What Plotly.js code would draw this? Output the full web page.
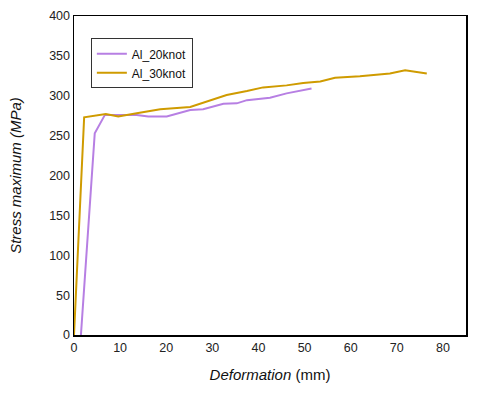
<!DOCTYPE html>
<html><head><meta charset="utf-8">
<script src="https://cdn.plot.ly/plotly-3.0.1.min.js"></script>
<style>body{margin:0;background:#fff}#c{width:480px;height:394px}</style>
</head><body><div id="c"></div>
<script>
const x20 = [1.5, 4.5, 6.7, 13.6, 16.1, 20.1, 25.2, 28.0, 32.4, 35.3, 37.5, 42.5, 46.1, 51.5];
const y20 = [0, 253, 276, 276, 274, 274, 282, 283, 290, 290.5, 294.5, 297.5, 303, 309];
const x30 = [0, 2.2, 6.9, 9.6, 13.6, 18.7, 25.2, 28.8, 33.1, 37.5, 41.0, 46.1, 49.7, 53.4, 56.6, 62.0, 68.5, 71.8, 76.5];
const y30 = [0, 273, 277, 274, 278, 283, 286, 292.5, 301, 306, 310.5, 313, 316, 318, 322.5, 324.5, 328, 332, 328];
const names = ['Al_20knot', 'Al_30knot'];

const traces = [
  {x: x20, y: y20, name: names[0], mode: 'lines', line: {color: '#b77fe3', width: 2}},
  {x: x30, y: y30, name: names[1], mode: 'lines', line: {color: '#cf9b00', width: 2}}
];
const layout = {
  width: 480, height: 394,
  margin: {l: 74, r: 14, t: 16, b: 59},
  paper_bgcolor: '#fff', plot_bgcolor: '#fff',
  font: {family: 'Arial, Liberation Sans, sans-serif', size: 12.5, color: '#222'},
  showlegend: true,
  legend: {x: 0.043, y: 0.93, xanchor: 'left', yanchor: 'top', bordercolor: '#333', borderwidth: 1,
    bgcolor: '#fff', font: {size: 12, color: '#111'}, tracegroupgap: 0, itemwidth: 30,
    traceorder: 'normal'},
  xaxis: {range: [0, 85], dtick: 10, showgrid: false, zeroline: false, showline: true, mirror: true,
    linecolor: '#000', linewidth: 1.5, ticks: '', ticklen: 0,
    title: {text: '<i>Deformation</i> (mm)', font: {size: 15, color: '#111'}, standoff: 16}},
  yaxis: {range: [0, 400], dtick: 50, showgrid: false, zeroline: false, showline: true, mirror: true,
    linecolor: '#000', linewidth: 1.5, ticks: '', ticklen: 0,
    title: {text: '<i>Stress maximum (MPa)</i>', font: {size: 15, color: '#111'}, standoff: 24}}
};
Plotly.newPlot('c', traces, layout, {displayModeBar: false, staticPlot: true});
</script></body></html>
